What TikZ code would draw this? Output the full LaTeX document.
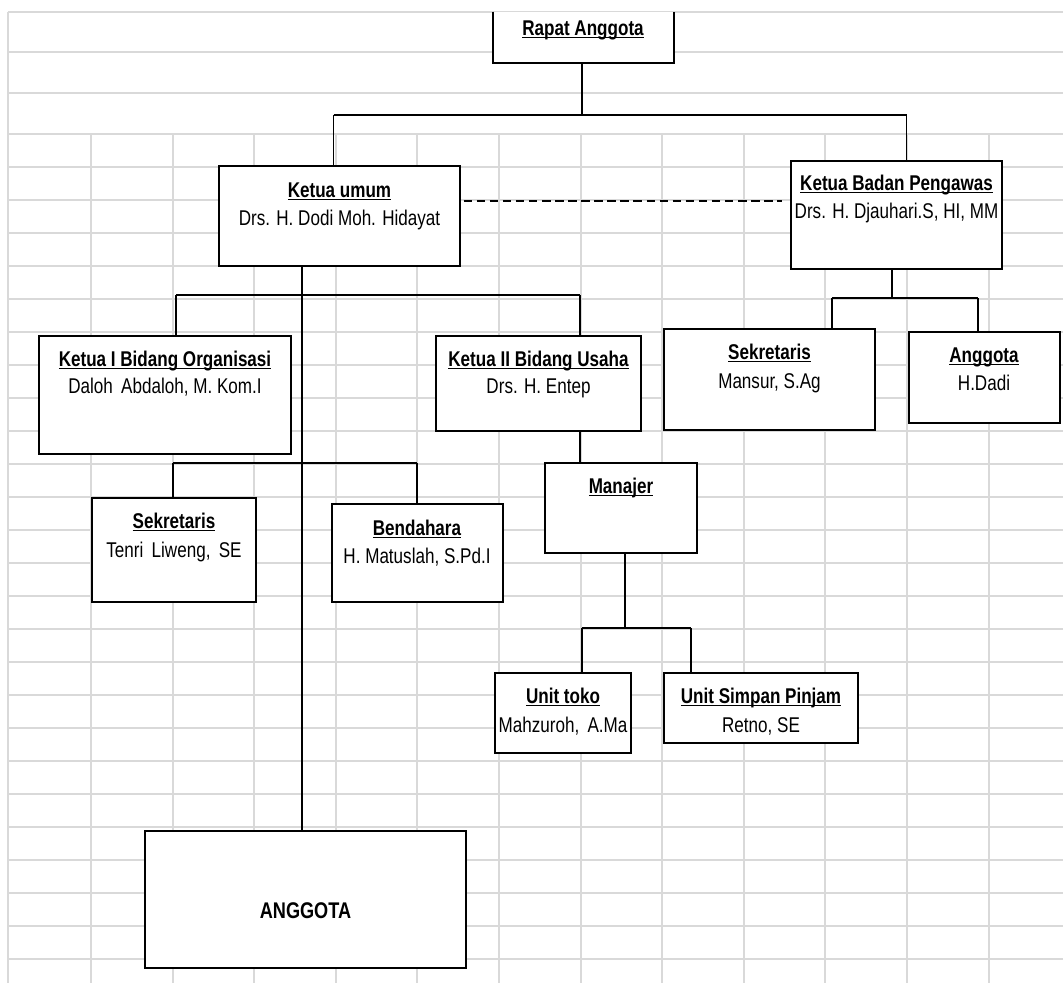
\documentclass[tikz,border=0pt]{standalone}
\usepackage{fontspec}
\setmainfont{Liberation Sans}[FakeStretch=0.8]
\usetikzlibrary{fit}
\newcommand{\hdr}[1]{\setbox0=\hbox{\bfseries #1}\leavevmode\rlap{\rule[-2.3pt]{\wd0}{1.1pt}}\box0}
\definecolor{gridgray}{HTML}{D9D9D9}
\tikzset{
  gridline/.style={draw=gridgray, line width=1.4pt},
  box/.style={draw, fill=white, line width=1.4pt, inner sep=0pt},
  openbox/.style={fill=white, inner sep=0pt},
  thk/.style={line width=1.5pt},
  thn/.style={line width=0.8pt},
  dashline/.style={line width=1.5pt, dash pattern=on 6.4pt off 3.4pt},
  txt/.style={anchor=base, inner sep=0pt, font=\fontsize{16pt}{19pt}\selectfont}
}
\begin{document}
\begin{tikzpicture}[x=0.75pt, y=-0.75pt]
\useasboundingbox (0,0) rectangle (1063,983);
% grid
\foreach \yy in {12,52,93} \draw[gridline] (8,\yy) -- (1063,\yy);
\foreach \k in {0,...,25} \draw[gridline] (8,134+33*\k) -- (1063,134+33*\k);
\draw[gridline] (8,12) -- (8,983);
\foreach \k in {0,...,11} \draw[gridline] (91+81.6*\k,134) -- (91+81.6*\k,983);

% boxes
\node[openbox, fit={(493,12) (674,63)}] (ra) {};
\draw[line width=1.4pt] (ra.north west) -- (ra.south west) -- (ra.south east) -- (ra.north east);
\node[box, fit={(219,166) (460,266)}] (ku) {};
\node[box, fit={(791,161) (1002,269)}] (bp) {};
\node[box, fit={(39,336) (291,454)}] (k1) {};
\node[box, fit={(436,336) (641,431)}] (k2) {};
\node[box, fit={(664,329) (875,430)}] (sbp) {};
\node[box, fit={(909,332) (1060,423)}] (abp) {};
\node[box, fit={(92,498) (256,602)}] (sk) {};
\node[box, fit={(332,504) (503,602)}] (bd) {};
\node[box, fit={(545,463) (697,553)}] (mj) {};
\node[box, fit={(495,673) (631,753)}] (ut) {};
\node[box, fit={(664,673) (858,743)}] (usp) {};
\node[box, fit={(145,831) (466,968)}] (ag) {};

% junction coordinates
\coordinate (j1) at (582,115);
\coordinate (b1l) at (333.5,115);
\coordinate (b1r) at (906.5,115);
\coordinate (dy) at (600,201);
\coordinate (kv) at (302,300);
\coordinate (b2l) at (176,295);
\coordinate (b2r) at (580,295);
\coordinate (b3l) at (173,463);
\coordinate (b3r) at (417,463);
\coordinate (b4l) at (582,628);
\coordinate (b4m) at (625,628);
\coordinate (b4r) at (691,628);
\coordinate (b5l) at (832,298);
\coordinate (b5m) at (892,298);
\coordinate (b5r) at (978,298);

% connectors
\draw[thn] (ra.south -| j1) -- (j1);
\draw[thk] (b1l) -- (b1r);
\draw[thn] (b1l) -- (ku.north -| b1l);
\draw[thn] (b1r) -- (bp.north -| b1r);
\draw[dashline, shorten <=2pt, shorten >=6pt] (ku.east |- dy) -- (bp.west |- dy);
\draw[thk] (ku.south -| kv) -- (ag.north -| kv);
\draw[thk] (b2l) -- (b2r);
\draw[thn] (b2l) -- (k1.north -| b2l);
\draw[thk] (b2r) -- (k2.north -| b2r);
\draw[thk] (b3l) -- (b3r);
\draw[thk] (b3l) -- (sk.north -| b3l);
\draw[thn] (b3r) -- (bd.north -| b3r);
\draw[thn] (k2.south -| b2r) -- (mj.north -| b2r);
\draw[thk] (mj.south -| b4m) -- (b4m);
\draw[thk] (b4l) -- (b4r);
\draw[thn] (b4l) -- (ut.north -| b4l);
\draw[thk] (b4r) -- (usp.north -| b4r);
\draw[thk] (bp.south -| b5m) -- (b5m);
\draw[thk] (b5l) -- (b5r);
\draw[thk] (b5l) -- (sbp.north -| b5l);
\draw[thk] (b5r) -- (abp.north -| b5r);

% texts
\node[txt] (ra-h) at (583,35) {\hdr{Rapat Anggota}};
\node[txt] (ku-h) at (339.5,197) {\hdr{Ketua umum}};
\node[txt] (ku-n) at (339.5,225) {Drs. H. Dodi Moh. Hidayat};
\node[txt] (bp-h) at (896.5,190) {\hdr{Ketua Badan Pengawas}};
\node[txt] (bp-n) at (896.5,218) {Drs. H. Djauhari.S, HI, MM};
\node[txt] (k1-h) at (165,366) {\hdr{Ketua I Bidang Organisasi}};
\node[txt] (k1-n) at (165,393) {Daloh\, Abdaloh, M. Kom.I};
\node[txt] (k2-h) at (538.5,366) {\hdr{Ketua II Bidang Usaha}};
\node[txt] (k2-n) at (538.5,393) {Drs. H. Entep};
\node[txt] (sbp-h) at (769.5,359) {\hdr{Sekretaris}};
\node[txt] (sbp-n) at (769.5,388) {Mansur, S.Ag};
\node[txt] (abp-h) at (984,362) {\hdr{Anggota}};
\node[txt] (abp-n) at (984,390) {H.Dadi};
\node[txt] (sk-h) at (174,528) {\hdr{Sekretaris}};
\node[txt] (sk-n) at (174,557) {Tenri\, Liweng,\, SE};
\node[txt] (bd-h) at (417,535) {\hdr{Bendahara}};
\node[txt] (bd-n) at (417,563) {H. Matuslah, S.Pd.I};
\node[txt] (mj-h) at (621,493) {\hdr{Manajer}};
\node[txt] (ut-h) at (563,703) {\hdr{Unit toko}};
\node[txt] (ut-n) at (563,732) {Mahzuroh,\, A.Ma};
\node[txt] (usp-h) at (761,703) {\hdr{Unit Simpan Pinjam}};
\node[txt] (usp-n) at (761,732) {Retno, SE};
\node[txt, font=\fontsize{17pt}{20pt}\selectfont\bfseries] (ag-t) at (305.5,918) {ANGGOTA};
\end{tikzpicture}
\end{document}
